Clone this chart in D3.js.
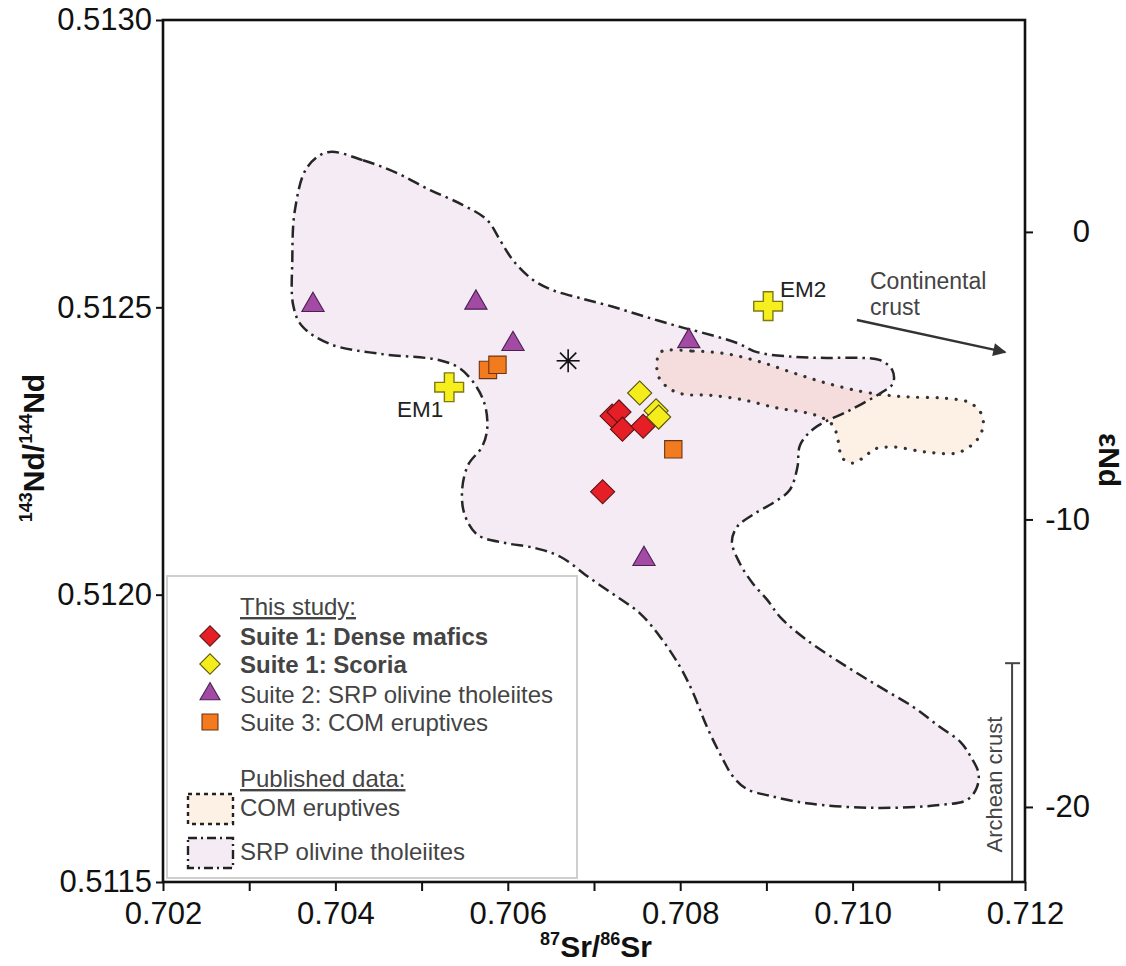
<!DOCTYPE html>
<html><head><meta charset="utf-8">
<script src="https://cdn.jsdelivr.net/npm/d3@7"></script>
<style>
body{margin:0;background:#fff}
svg{display:block}
text{font-family:"Liberation Sans",Arial,Helvetica,sans-serif}
</style>
</head><body>
<svg id="c" width="1126" height="966"></svg>
<script>
// ---------------- DATA ----------------
const xTicks = [0.702,0.703,0.704,0.705,0.706,0.707,0.708,0.709,0.710,0.711,0.712];
const yTicks = [0.5115,0.5120,0.5125,0.5130];
const epsTicks = [0,-10,-20];
const epsDomain = [-22.61, 7.37];

// [87Sr/86Sr, 143Nd/144Nd]
const suite1Dense = [[0.70721,0.512311],[0.70729,0.512318],[0.70733,0.512288],[0.70757,0.512293],[0.70710,0.512179]];
const suite1Scoria = [[0.70753,0.512351],[0.70772,0.512320],[0.70775,0.512309]];
const suite2SRP = [[0.70374,0.512504],[0.70563,0.512508],[0.70606,0.512436],[0.70810,0.512441],[0.70758,0.512062]];
const suite3COM = [[0.70577,0.512391],[0.70588,0.512400],[0.70792,0.512253]];
const bulkEarth = [[0.70670,0.512407]];
const endMembers = [{name:"EM1", sr:0.70532, nd:0.512361},{name:"EM2", sr:0.70902, nd:0.512502}];
const crustArrow = [[0.71005,0.512478],[0.71177,0.512422]];
const archeanCrust = {sr:0.71185, epsTop:-15};

const srpField = [
 [0.70391,0.512770],[0.70432,0.512756],[0.70471,0.512734],[0.70510,0.512704],[0.70548,0.512678],
 [0.70576,0.512652],[0.70591,0.512617],[0.70606,0.512582],[0.70629,0.512548],[0.70652,0.512530],
 [0.70684,0.512516],[0.70722,0.512501],[0.70761,0.512483],[0.70800,0.512466],[0.70823,0.512457],
 [0.70866,0.512438],[0.70889,0.512422],[0.70931,0.512414],[0.70970,0.512412],[0.71009,0.512412],
 [0.71032,0.512408],[0.71046,0.512391],[0.71047,0.512368],[0.71035,0.512353],[0.70997,0.512321],
 [0.70956,0.512290],[0.70939,0.512260],[0.70936,0.512222],[0.70927,0.512182],[0.70908,0.512160],
 [0.70884,0.512139],[0.70866,0.512118],[0.70860,0.512092],[0.70869,0.512055],[0.70884,0.512020],
 [0.70901,0.511991],[0.70916,0.511961],[0.70947,0.511921],[0.70994,0.511874],[0.71032,0.511839],
 [0.71070,0.511805],[0.71101,0.511770],[0.71125,0.511744],[0.71137,0.511718],[0.71146,0.511690],
 [0.71144,0.511664],[0.71133,0.511643],[0.71101,0.511634],[0.71024,0.511629],[0.70947,0.511637],
 [0.70904,0.511650],[0.70877,0.511662],[0.70861,0.511684],[0.70850,0.511712],[0.70831,0.511770],
 [0.70815,0.511829],[0.70800,0.511874],[0.70777,0.511926],[0.70753,0.511968],[0.70727,0.511996],
 [0.70695,0.512029],[0.70661,0.512066],[0.70632,0.512081],[0.70597,0.512090],[0.70565,0.512104],
 [0.70550,0.512139],[0.70547,0.512182],[0.70554,0.512226],[0.70570,0.512257],[0.70576,0.512287],
 [0.70574,0.512327],[0.70564,0.512361],[0.70545,0.512393],[0.70521,0.512408],[0.70452,0.512419],
 [0.70394,0.512436],[0.70361,0.512468],[0.70351,0.512504],[0.70350,0.512582],[0.70353,0.512669],
 [0.70367,0.512743]
];
const comField = [
 [0.70777,0.512422],[0.70815,0.512424],[0.70854,0.512419],[0.70893,0.512405],[0.70931,0.512386],
 [0.70970,0.512368],[0.71009,0.512354],[0.71040,0.512347],[0.71067,0.512344],[0.71105,0.512342],
 [0.71136,0.512334],[0.71150,0.512313],[0.71151,0.512290],[0.71143,0.512267],[0.71122,0.512247],
 [0.71086,0.512248],[0.71047,0.512257],[0.71025,0.512253],[0.71014,0.512240],[0.71000,0.512229],
 [0.70988,0.512238],[0.70983,0.512269],[0.70978,0.512293],[0.70966,0.512307],[0.70948,0.512316],
 [0.70912,0.512325],[0.70873,0.512339],[0.70835,0.512347],[0.70803,0.512349],[0.70786,0.512360],
 [0.70775,0.512379],[0.70773,0.512401]
];

const legendItems = [
 {text:"This study:", type:"head"},
 {text:"Suite 1: Dense mafics", type:"redDiamond", bold:true},
 {text:"Suite 1: Scoria", type:"yellowDiamond", bold:true},
 {text:"Suite 2: SRP olivine tholeiites", type:"triangle"},
 {text:"Suite 3: COM eruptives", type:"square"},
 {text:"Published data:", type:"head"},
 {text:"COM eruptives", type:"comPatch"},
 {text:"SRP olivine tholeiites", type:"srpPatch"}
];
const legendBaselines = [615,645,673,703,731,787,816,860];

// ---------------- DRAW ----------------
const svg = d3.select("#c");
svg.append("rect").attr("width",1126).attr("height",966).attr("fill","#fff");

const x = d3.scaleLinear().domain([0.702,0.712]).range([163,1025]);
const y = d3.scaleLinear().domain([0.5115,0.5130]).range([882,20]);
const e = d3.scaleLinear().domain(epsDomain).range([882,20]);

const outline = d3.line().x(d=>x(d[0])).y(d=>y(d[1])).curve(d3.curveCatmullRomClosed.alpha(0.5));

const defs = svg.append("defs");
defs.append("clipPath").attr("id","srpClip").append("path").attr("d", outline(srpField));
defs.append("marker").attr("id","arrowHead").attr("viewBox","0 0 10 10").attr("refX",9).attr("refY",5)
  .attr("markerWidth",6).attr("markerHeight",5.5).attr("markerUnits","strokeWidth").attr("orient","auto")
  .append("path").attr("d","M0,0 L10,5 L0,10 Z").attr("fill","#333");

const fields = svg.append("g");
fields.append("path").attr("d", outline(srpField)).attr("fill","#f5ebf4");
fields.append("path").attr("d", outline(comField)).attr("fill","#fdf0e5");
fields.append("path").attr("d", outline(comField)).attr("fill","#f6dddd").attr("clip-path","url(#srpClip)");
fields.append("path").attr("d", outline(srpField)).attr("fill","none").attr("stroke","#262626")
  .attr("stroke-width",2.5).attr("stroke-dasharray","12,5,2.5,5");
fields.append("path").attr("d", outline(comField)).attr("fill","none").attr("stroke","#333")
  .attr("stroke-width",3.2).attr("stroke-linecap","round").attr("stroke-dasharray","0.1,9.5");

// Archean crust bar
const arch = svg.append("g");
arch.append("line").attr("x1",x(archeanCrust.sr)).attr("x2",x(archeanCrust.sr))
  .attr("y1",e(archeanCrust.epsTop)).attr("y2",y(0.5115)).attr("stroke","#444").attr("stroke-width",2);
arch.append("line").attr("x1",x(archeanCrust.sr)-7).attr("x2",x(archeanCrust.sr)+8)
  .attr("y1",e(archeanCrust.epsTop)).attr("y2",e(archeanCrust.epsTop)).attr("stroke","#444").attr("stroke-width",2);
arch.append("text").attr("transform",`translate(${x(archeanCrust.sr)-10},${(e(archeanCrust.epsTop)+y(0.5115))/2+12}) rotate(-90)`)
  .attr("text-anchor","middle").attr("font-size",22).attr("fill","#444").text("Archean crust");

// Continental crust arrow
svg.append("line").attr("x1",x(crustArrow[0][0])).attr("y1",y(crustArrow[0][1]))
  .attr("x2",x(crustArrow[1][0])).attr("y2",y(crustArrow[1][1]))
  .attr("stroke","#333").attr("stroke-width",2.4).attr("marker-end","url(#arrowHead)");
const cc = svg.append("text").attr("font-size",23).attr("fill","#444");
cc.append("tspan").attr("x",870).attr("y",289).text("Continental");
cc.append("tspan").attr("x",870).attr("y",315).text("crust");

// Legend
const lg = svg.append("g");
lg.append("rect").attr("x",167).attr("y",576).attr("width",410).attr("height",302)
  .attr("fill","#fff").attr("stroke","#cfcfcf").attr("stroke-width",2);

const sym = (type,size)=>d3.symbol().type(type).size(size)();
function drawMarker(sel, kind, cx, cy, legend){
  const k = legend ? 0.72 : 1;
  if(kind==="redDiamond" || kind==="yellowDiamond"){
    sel.append("path").attr("d", sym(d3.symbolSquare, 290*k))
      .attr("transform",`translate(${cx},${cy}) rotate(45)`)
      .attr("fill", kind==="redDiamond" ? "#e61e25" : "#f4ec1b")
      .attr("stroke", kind==="redDiamond" ? "#5a1416" : "#55520f").attr("stroke-width",1.1);
  } else if(kind==="triangle"){
    sel.append("path").attr("d", sym(d3.symbolTriangle, 215*(legend?0.8:1)))
      .attr("transform",`translate(${cx},${cy})`)
      .attr("fill","#a24aa4").attr("stroke","#4a2250").attr("stroke-width",1.1);
  } else if(kind==="square"){
    sel.append("path").attr("d", sym(d3.symbolSquare, 300*(legend?0.85:1)))
      .attr("transform",`translate(${cx},${cy})`)
      .attr("fill","#f27b1f").attr("stroke","#6e3411").attr("stroke-width",1.1);
  }
}

legendItems.forEach((it,i)=>{
  const by = legendBaselines[i];
  const t = lg.append("text").attr("x",240).attr("y",by).attr("font-size",24).attr("fill","#444")
    .attr("font-weight", it.bold ? "bold" : "normal").text(it.text);
  if(it.type==="head") t.style("text-decoration","underline");
  const cy = by - 9;
  if(["redDiamond","yellowDiamond","triangle","square"].includes(it.type)){
    drawMarker(lg, it.type, 210, cy, true);
  } else if(it.type==="comPatch"){
    lg.append("rect").attr("x",188).attr("y",794).attr("width",45).attr("height",30)
      .attr("fill","#fdf0e5").attr("stroke","#222").attr("stroke-width",2.4).attr("stroke-dasharray","4,4");
  } else if(it.type==="srpPatch"){
    lg.append("rect").attr("x",188).attr("y",838).attr("width",45).attr("height",30)
      .attr("fill","#f5ebf4").attr("stroke","#222").attr("stroke-width",2.4).attr("stroke-dasharray","9,4,2,4");
  }
});

// Data markers
const marks = svg.append("g");
suite2SRP.forEach(d=>drawMarker(marks,"triangle",x(d[0]),y(d[1])));
suite3COM.forEach(d=>drawMarker(marks,"square",x(d[0]),y(d[1])));
suite1Dense.forEach(d=>drawMarker(marks,"redDiamond",x(d[0]),y(d[1])));
suite1Scoria.forEach(d=>drawMarker(marks,"yellowDiamond",x(d[0]),y(d[1])));

// bulk earth asterisk
bulkEarth.forEach(d=>{
  const cx=x(d[0]), cy=y(d[1]), r=11.5;
  const a = marks.append("g").attr("transform",`translate(${cx},${cy})`);
  [0,45,90,135].forEach(ang=>{
    const rad = ang*Math.PI/180;
    a.append("line").attr("x1",-r*Math.cos(rad)).attr("y1",-r*Math.sin(rad))
      .attr("x2",r*Math.cos(rad)).attr("y2",r*Math.sin(rad)).attr("stroke","#111").attr("stroke-width",1.6);
  });
  a.append("circle").attr("r",2).attr("fill","#111");
});

// end members
endMembers.forEach(m=>{
  marks.append("path").attr("d", sym(d3.symbolCross, 460))
    .attr("transform",`translate(${x(m.sr)},${y(m.nd)})`)
    .attr("fill","#f6ee1d").attr("stroke","#7d7a10").attr("stroke-width",1.4);
});
svg.append("text").attr("x",397).attr("y",417).attr("font-size",22.5).attr("fill","#222").text(endMembers[0].name);
svg.append("text").attr("x",780).attr("y",297).attr("font-size",22.5).attr("fill","#222").text(endMembers[1].name);

// Axes
function styleAxis(g){
  g.select(".domain").remove();
  g.selectAll(".tick line").attr("stroke","#111").attr("stroke-width",2);
  g.selectAll(".tick text").attr("font-size",31).attr("fill","#111")
    .attr("font-family","'Liberation Sans',Arial,Helvetica,sans-serif");
}
svg.append("g").attr("transform","translate(0,882)")
  .call(d3.axisBottom(x).tickValues(xTicks).tickSize(9).tickPadding(11)
    .tickFormat((d,i)=> i%2===0 ? d.toFixed(3) : ""))
  .call(styleAxis);
svg.append("g").attr("transform","translate(163,0)")
  .call(d3.axisLeft(y).tickValues(yTicks).tickSize(7).tickPadding(4).tickFormat(d=>d.toFixed(4)))
  .call(styleAxis);
const ra = svg.append("g").attr("transform",`translate(${x(0.712)},0)`)
  .call(d3.axisRight(e).tickValues(epsTicks).tickSize(8).tickFormat(d=> d<0 ? "-"+Math.abs(d) : String(d)))
  .call(styleAxis);
ra.selectAll(".tick text").attr("text-anchor","end").attr("x",65);

// frame
svg.append("rect").attr("x",163).attr("y",20).attr("width",x(0.712)-163).attr("height",862)
  .attr("fill","none").attr("stroke","#111").attr("stroke-width",2.6);

// axis titles
const xt = svg.append("text").attr("x",596).attr("y",957).attr("text-anchor","middle")
  .attr("font-size",30).attr("font-weight","bold").attr("fill","#111");
xt.append("tspan").attr("font-size",18).attr("dy",-12).text("87");
xt.append("tspan").attr("dy",12).text("Sr/");
xt.append("tspan").attr("font-size",18).attr("dy",-12).text("86");
xt.append("tspan").attr("dy",12).text("Sr");

const yt = svg.append("text").attr("transform","translate(44,448) rotate(-90)").attr("text-anchor","middle")
  .attr("font-size",30).attr("font-weight","bold").attr("fill","#111");
yt.append("tspan").attr("font-size",18).attr("dy",-12).text("143");
yt.append("tspan").attr("dy",12).text("Nd/");
yt.append("tspan").attr("font-size",18).attr("dy",-12).text("144");
yt.append("tspan").attr("dy",12).text("Nd");

svg.append("text").attr("transform","translate(1099,460) rotate(90)").attr("text-anchor","middle")
  .attr("font-size",30).attr("font-weight","bold").attr("fill","#111").text("εNd");
</script>
</body></html>
